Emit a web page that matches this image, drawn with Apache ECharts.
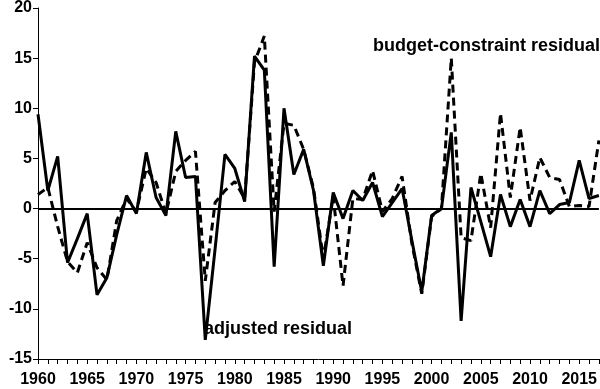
<!DOCTYPE html>
<html>
<head>
<meta charset="utf-8">
<script src="https://cdn.jsdelivr.net/npm/echarts@6/dist/echarts.min.js"></script>
<style>html,body{margin:0;padding:0;background:#fff}#c{width:600px;height:389px}</style>
</head>
<body>
<div id="c"></div>
<script>
const years = [];
for (let y = 1960; y <= 2017; y++) years.push(String(y));

const adjustedResidual = [
  9.4, 1.8, 5.2, -5.4, -3.0, -0.5, -8.6, -6.9, -2.6, 1.3,
  -0.5, 5.6, 1.1, -0.7, 7.7, 3.1, 3.2, -13.1, -4.0, 5.4,
  4.0, 0.7, 15.2, 13.8, -5.8, 10.0, 3.4, 5.9, 1.8, -5.7,
  1.6, -1.0, 1.8, 0.8, 2.6, -0.8, 0.6, 2.0, -3.2, -8.3,
  -0.7, 0.0, 7.6, -11.2, 2.1, -1.3, -4.8, 1.4, -1.8, 0.9,
  -1.8, 1.8, -0.5, 0.4, 0.6, 4.8, 1.0, 1.3
];

const budgetConstraintResidual = [
  1.4, 2.1, -1.8, -5.3, -6.4, -3.4, -5.9, -7.1, -1.2, 1.0,
  -0.3, 4.0, 2.6, -0.5, 3.7, 4.8, 5.7, -7.2, 0.6, 1.8,
  2.7, 1.0, 14.6, 17.2, -0.3, 8.5, 8.3, 5.9, 2.0, -5.0,
  1.2, -7.7, 1.0, 0.9, 3.8, -0.3, 1.0, 3.2, -3.5, -8.5,
  -0.8, 0.0, 15.0, -2.9, -3.2, 3.5, -1.9, 9.5, 1.1, 8.1,
  0.8, 5.1, 3.1, 2.9, 0.2, 0.3, 0.2, 6.8
];

const yTicks = { min: -15, max: 20, interval: 5 };

const chart = echarts.init(document.getElementById('c'), null, { renderer: 'canvas' });
const font = 'Liberation Sans, Arial, sans-serif';
chart.setOption({
  animation: false,
  backgroundColor: '#fff',
  grid: { left: 38, right: 1, top: 7, bottom: 30, containLabel: false },
  xAxis: {
    type: 'category',
    data: years,
    boundaryGap: false,
    axisLine: { onZero: false, lineStyle: { color: '#000', width: 1 } },
    axisTick: { show: true, interval: 0, length: 5, lineStyle: { color: '#000' } },
    axisLabel: { interval: 4, color: '#000', fontFamily: font, fontWeight: 'bold', fontSize: 16, margin: 13 },
    splitLine: { show: false }
  },
  yAxis: {
    type: 'value',
    min: yTicks.min, max: yTicks.max, interval: yTicks.interval,
    axisLine: { show: true, lineStyle: { color: '#000', width: 1 } },
    axisTick: { show: true, length: 5, lineStyle: { color: '#000' } },
    axisLabel: { color: '#000', fontFamily: font, fontWeight: 'bold', fontSize: 16, margin: 6 },
    splitLine: { show: false }
  },
  series: [
    {
      name: 'budget-constraint residual',
      type: 'line',
      data: budgetConstraintResidual,
      symbol: 'none',
      lineStyle: { color: '#000', width: 3, type: [8, 5] },
      z: 2
    },
    {
      name: 'adjusted residual',
      type: 'line',
      data: adjustedResidual,
      symbol: 'none',
      lineStyle: { color: '#000', width: 3 },
      z: 3,
      markLine: {
        silent: true,
        symbol: 'none',
        label: { show: false },
        lineStyle: { color: '#000', width: 2, type: 'solid' },
        data: [{ yAxis: 0 }]
      }
    }
  ],
  graphic: [
    {
      type: 'text', left: 373, top: 37,
      style: { text: 'budget-constraint residual', font: 'bold 18px ' + font, fill: '#000' }
    },
    {
      type: 'text', left: 204, top: 320,
      style: { text: 'adjusted residual', font: 'bold 18px ' + font, fill: '#000' }
    }
  ]
});
</script>
</body>
</html>
